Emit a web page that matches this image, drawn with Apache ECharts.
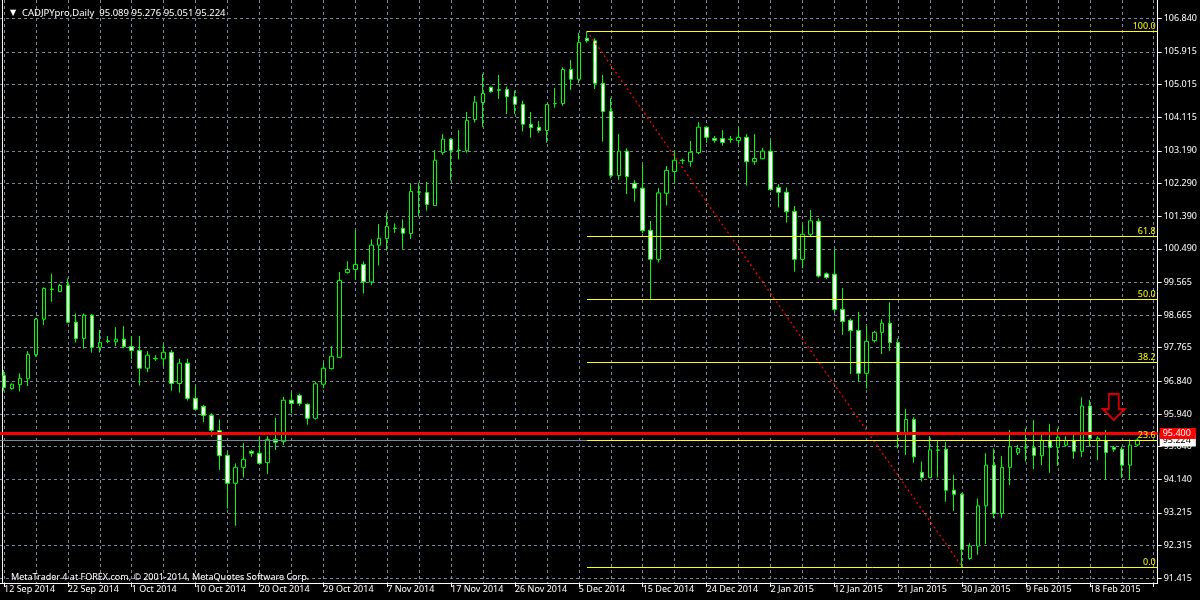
<!DOCTYPE html>
<html><head><meta charset="utf-8">
<script src="https://cdn.jsdelivr.net/npm/echarts@6/dist/echarts.min.js"></script>
<style>html,body{margin:0;padding:0;background:#000}#c{width:1200px;height:600px}</style>
</head><body><div id="c"></div>
<script>
// ---- data ----
const dates = [
'12 Sep 2014','14 Sep 2014','15 Sep 2014','16 Sep 2014','17 Sep 2014','18 Sep 2014','19 Sep 2014',
'21 Sep 2014','22 Sep 2014','23 Sep 2014','24 Sep 2014','25 Sep 2014','26 Sep 2014',
'28 Sep 2014','29 Sep 2014','30 Sep 2014','1 Oct 2014','2 Oct 2014','3 Oct 2014',
'5 Oct 2014','6 Oct 2014','7 Oct 2014','8 Oct 2014','9 Oct 2014','10 Oct 2014',
'12 Oct 2014','13 Oct 2014','14 Oct 2014','15 Oct 2014','16 Oct 2014','17 Oct 2014',
'19 Oct 2014','20 Oct 2014','21 Oct 2014','22 Oct 2014','23 Oct 2014','24 Oct 2014',
'26 Oct 2014','27 Oct 2014','28 Oct 2014','29 Oct 2014','30 Oct 2014','31 Oct 2014',
'2 Nov 2014','3 Nov 2014','4 Nov 2014','5 Nov 2014','6 Nov 2014','7 Nov 2014',
'9 Nov 2014','10 Nov 2014','11 Nov 2014','12 Nov 2014','13 Nov 2014','14 Nov 2014',
'16 Nov 2014','17 Nov 2014','18 Nov 2014','19 Nov 2014','20 Nov 2014','21 Nov 2014',
'23 Nov 2014','24 Nov 2014','25 Nov 2014','26 Nov 2014','27 Nov 2014','28 Nov 2014',
'30 Nov 2014','1 Dec 2014','2 Dec 2014','3 Dec 2014','4 Dec 2014','5 Dec 2014',
'7 Dec 2014','8 Dec 2014','9 Dec 2014','10 Dec 2014','11 Dec 2014','12 Dec 2014',
'14 Dec 2014','15 Dec 2014','16 Dec 2014','17 Dec 2014','18 Dec 2014','19 Dec 2014',
'21 Dec 2014','22 Dec 2014','23 Dec 2014','24 Dec 2014','25 Dec 2014','26 Dec 2014',
'28 Dec 2014','29 Dec 2014','30 Dec 2014','31 Dec 2014','1 Jan 2015','2 Jan 2015',
'4 Jan 2015','5 Jan 2015','6 Jan 2015','7 Jan 2015','8 Jan 2015','9 Jan 2015',
'11 Jan 2015','12 Jan 2015','13 Jan 2015','14 Jan 2015','15 Jan 2015','16 Jan 2015',
'18 Jan 2015','19 Jan 2015','20 Jan 2015','21 Jan 2015','22 Jan 2015','23 Jan 2015',
'25 Jan 2015','26 Jan 2015','27 Jan 2015','28 Jan 2015','29 Jan 2015','30 Jan 2015',
'1 Feb 2015','2 Feb 2015','3 Feb 2015','4 Feb 2015','5 Feb 2015','6 Feb 2015',
'8 Feb 2015','9 Feb 2015','10 Feb 2015','11 Feb 2015','12 Feb 2015','13 Feb 2015',
'15 Feb 2015','16 Feb 2015','17 Feb 2015','18 Feb 2015','19 Feb 2015','20 Feb 2015',
'22 Feb 2015','23 Feb 2015','24 Feb 2015','25 Feb 2015'
];
const opens = [
97.00,96.64,96.75,96.91,97.57,98.55,99.37,99.31,99.48,98.47,98.02,98.66,97.78,97.95,97.93,98.00,97.80,97.69,97.20,97.47,
97.46,97.64,96.78,97.34,96.37,96.15,95.90,95.48,94.80,94.03,94.47,94.91,94.86,94.60,95.24,95.18,96.32,96.45,96.21,95.82,
96.76,97.19,97.50,99.84,99.92,100.06,99.58,100.59,100.77,101.05,101.05,100.91,102.06,102.04,101.68,103.14,103.51,103.21,103.19,104.05,
104.52,104.94,104.87,104.88,104.68,104.47,103.92,103.84,103.75,104.49,104.49,105.43,105.16,106.29,106.22,105.05,104.28,102.51,103.18,102.29,
102.16,101.00,100.20,102.02,102.62,102.92,102.89,103.14,103.84,103.53,103.53,103.51,103.47,103.56,102.89,102.97,103.18,102.18,102.05,101.52,
100.20,100.89,101.25,99.80,99.79,98.82,98.52,98.24,97.06,97.96,98.19,98.44,97.91,95.41,95.79,94.33,94.19,94.95,94.97,93.84,
93.73,91.96,92.30,93.41,94.53,93.20,94.47,94.87,95.01,95.01,94.79,95.21,95.02,95.08,95.21,94.91,96.16,95.21,95.21,95.02,
94.97,94.53,95.089
];
const highs = [
97.15,96.78,97.06,97.67,98.58,99.43,99.80,99.52,99.67,98.71,98.71,98.69,98.25,98.09,98.33,98.36,98.09,98.09,97.67,97.56,
97.86,97.70,97.46,97.46,96.71,96.19,95.96,95.79,94.87,94.58,95.14,94.95,95.33,95.33,95.83,96.41,96.53,96.50,96.23,96.83,
97.35,97.81,99.85,100.15,100.99,100.14,100.75,101.17,101.49,101.19,101.30,102.28,102.31,102.33,103.21,103.65,103.53,103.76,104.26,104.70,
105.31,104.96,105.28,104.96,104.85,104.57,104.26,104.01,104.48,104.92,105.49,105.69,106.44,106.49,106.29,105.28,104.64,103.65,103.26,102.39,
102.83,101.26,102.16,102.77,103.19,102.97,103.46,103.98,103.86,103.60,103.76,103.60,103.84,103.65,103.65,103.27,103.49,102.28,102.18,101.67,
101.17,101.56,101.33,99.84,100.47,99.41,98.57,98.75,98.36,98.23,98.55,99.02,98.02,96.08,95.85,94.63,95.33,95.22,95.17,94.26,
93.76,92.38,93.61,94.86,94.99,94.78,95.50,95.09,95.54,95.77,95.45,95.66,95.54,95.33,95.43,96.40,96.33,95.33,95.50,95.06,
95.04,95.24,95.276
];
const lows = [
96.58,96.61,96.56,96.71,97.52,98.39,99.03,99.30,98.44,97.91,97.74,97.63,97.63,97.89,97.81,97.75,97.45,96.72,97.09,97.40,
97.26,96.58,96.53,96.31,96.05,95.72,95.32,94.40,93.33,92.86,94.19,94.76,94.56,94.29,94.95,95.09,95.96,96.16,95.65,95.79,
96.65,97.17,97.49,99.81,99.63,99.26,99.49,100.03,100.44,100.93,100.49,100.76,101.38,101.54,101.67,103.08,102.37,102.95,103.14,103.97,
103.85,104.79,104.62,104.20,104.20,103.72,103.55,103.69,103.41,104.38,104.43,104.87,105.05,106.17,104.89,103.44,102.43,102.39,102.00,101.79,
100.92,99.08,100.11,101.68,102.29,102.82,102.75,103.10,103.41,103.41,103.33,103.41,103.38,102.23,102.80,102.96,102.09,101.63,101.21,99.86,
99.95,100.82,99.70,99.65,98.74,98.12,97.04,96.83,96.64,97.91,97.59,97.68,94.99,94.81,94.60,94.08,94.17,94.19,93.52,93.27,
91.726,91.92,92.06,92.36,93.07,93.07,93.98,94.81,94.63,94.42,94.53,94.32,94.51,95.04,94.70,94.76,95.04,94.67,94.14,94.90,
94.17,94.12,95.051
];
const closes = [
96.67,96.76,96.92,97.58,98.55,99.40,99.38,99.48,98.47,98.02,98.66,97.78,97.91,97.94,98.00,97.80,97.69,97.20,97.56,97.46,
97.64,96.78,97.34,96.37,96.07,95.90,95.49,94.79,94.03,94.47,94.69,94.86,94.58,95.24,95.16,96.32,96.23,96.23,95.82,96.77,
97.20,97.53,99.62,99.92,100.06,99.58,100.59,100.78,101.11,101.06,100.92,102.07,102.05,101.71,102.93,103.51,103.20,103.20,104.03,104.53,
104.77,104.82,104.86,104.68,104.47,103.92,103.83,103.75,104.47,104.49,105.43,105.16,106.18,106.22,105.05,104.27,102.51,103.18,102.48,102.16,
100.99,100.20,102.03,102.65,102.93,102.93,103.15,103.84,103.56,103.48,103.42,103.50,103.56,102.89,102.98,103.18,102.12,102.05,101.51,100.20,
100.89,101.26,99.74,99.70,98.82,98.49,98.24,97.06,97.94,98.19,98.44,97.91,95.41,95.79,94.76,94.19,94.95,94.94,93.84,93.73,
92.21,92.30,93.41,94.53,93.20,94.47,95.04,94.99,95.00,94.80,95.21,95.02,95.30,95.21,94.91,96.16,95.27,95.27,94.88,94.97,
94.53,95.08,95.224
];
const priceTicks = [106.840,105.915,105.015,104.115,103.190,102.290,101.390,100.490,99.565,98.665,97.765,96.840,95.940,95.040,94.140,93.215,92.315,91.415];
const fibRatios = ['100.0','61.8','50.0','38.2','23.6','0.0'];
const fibLevels = [106.490,100.850,99.108,97.366,95.210,91.726];
const fibStartBar = 73;   // 7 Dec 2014 high
const fibEndBar = 120;    // 30 Jan 2015 low
const resistanceLevel = 95.400;
const bidLevel = 95.224;
const arrowPoint = [139, 96.13];
const symbolName = 'CADJPYpro,Daily';
const copyrightText = 'MetaTrader 4 at FOREX.com, \u00a9 2001-2014, MetaQuotes Software Corp.';

// ---- chart ----
const n = dates.length;
const last = n - 1;
const xRight = n + 1.5;
const candles = dates.map((d, i) => [opens[i], closes[i], lows[i], highs[i]]);
const vGrid = [];
for (let i = 0; i <= n + 1; i += 4) vGrid.push(i);
const f3 = v => v.toFixed(3);
const FONT = '"Noto Sans", "DejaVu Sans", sans-serif';
const GRID_DASH = {color: '#778899', width: 1, type: [3, 3]};
const YELLOW = '#ffff00';

// fibonacci levels: [startBar, endBar(right edge), price, ratio label index]
const fibData = fibLevels.map((lvl, k) => [fibStartBar, xRight, lvl, k]);

function renderFib(params, api) {
  const p1 = api.coord([api.value(0), api.value(2)]);
  const p2 = api.coord([api.value(1), api.value(2)]);
  const y = Math.round(p1[1]) + 0.5;            // crisp 1px line
  const k = api.value(3);
  return {
    type: 'group',
    children: [
      {type: 'line', shape: {x1: Math.round(p1[0]), y1: y, x2: p2[0], y2: y},
       style: {stroke: YELLOW, lineWidth: 1}},
      {type: 'text', x: p2[0] - 2, y: y - 1,
       style: {text: fibRatios[k], fill: YELLOW, align: 'right', verticalAlign: 'bottom',
               font: '9px "Noto Sans", sans-serif'}}
    ]
  };
}

const chart = echarts.init(document.getElementById('c'));
chart.setOption({
  backgroundColor: '#000',
  animation: false,
  title: [
    {text: '\u25BC', left: 5, top: 4, textStyle: {color: '#fff', fontSize: 8, fontWeight: 'normal', fontFamily: '"DejaVu Sans", sans-serif'}},
    {text: symbolName + '  ' + [opens[last], highs[last], lows[last], closes[last]].map(f3).join(' '),
     left: 17, top: 3, textStyle: {color: '#fff', fontSize: 9.5, fontWeight: 'normal', fontFamily: FONT}},
    {text: copyrightText, left: 6, top: 568, textStyle: {color: '#fff', fontSize: 9, fontWeight: 'normal', fontFamily: FONT}}
  ],
  grid: {left: -0.67, top: 0, width: 1160, height: 583},
  xAxis: [
    {type: 'category', data: dates, boundaryGap: true, max: n + 1,
     axisLine: {show: true, onZero: false, lineStyle: {color: '#fff', width: 1}},
     axisTick: {show: true, alignWithLabel: true, length: 4, interval: i => i % 8 === 0, lineStyle: {color: '#fff'}},
     axisLabel: {show: true, interval: i => i % 8 === 0 && i < n, align: 'left', margin: 2, color: '#fff', fontSize: 9, fontFamily: FONT},
     splitLine: {show: false}},
    {type: 'value', min: -0.5, max: xRight, position: 'top',
     axisLine: {show: false, onZero: false}, axisTick: {show: false, customValues: vGrid}, axisLabel: {show: false},
     splitLine: {show: true, lineStyle: GRID_DASH}}
  ],
  yAxis: [
    {type: 'value', position: 'right', min: 91.284, max: 107.344,
     axisLine: {show: true, onZero: false, lineStyle: {color: '#fff', width: 1}},
     axisTick: {show: true, length: 4, customValues: priceTicks, lineStyle: {color: '#fff'}},
     axisLabel: {customValues: priceTicks, formatter: v => f3(v), color: '#fff', fontSize: 9, fontFamily: FONT, margin: 6},
     splitLine: {show: true, lineStyle: GRID_DASH}},
    {type: 'value', position: 'left', offset: -2.67, min: 0, max: 1,
     axisLine: {show: true, onZero: false, lineStyle: {color: '#fff', width: 1}},
     axisTick: {show: false}, axisLabel: {show: false}, splitLine: {show: false}}
  ],
  series: [
    {type: 'candlestick', name: symbolName, xAxisIndex: 0, yAxisIndex: 0, data: candles, barWidth: 4, z: 3,
     itemStyle: {color: '#000', color0: '#fff', borderColor: '#00ff00', borderColor0: '#00ff00', borderColorDoji: '#00ff00', borderWidth: 1}},
    {type: 'line', name: 'trend', xAxisIndex: 1, yAxisIndex: 0, z: 4, silent: true, symbol: 'none',
     data: [[fibStartBar, fibLevels[0]], [fibEndBar, fibLevels[fibLevels.length - 1]]],
     lineStyle: {color: '#ff0000', width: 1.3, type: [2, 3]}},
    {type: 'line', name: 'bid', xAxisIndex: 0, yAxisIndex: 0, data: [], z: 5, silent: true,
     markLine: {symbol: ['none', 'none'], silent: true, animation: false,
       lineStyle: {color: '#778899', width: 1, type: 'solid'},
       label: {show: true, position: 'end', distance: 2, formatter: f3(bidLevel), backgroundColor: '#fff', color: '#000',
               fontSize: 9, fontFamily: FONT, lineHeight: 11, padding: [1, 5, 1, 3]},
       emphasis: {disabled: true},
       data: [{yAxis: bidLevel}]}},
    {type: 'line', name: 'resistance', xAxisIndex: 0, yAxisIndex: 0, data: [], z: 6, silent: true,
     markLine: {symbol: ['none', 'none'], silent: true, animation: false,
       lineStyle: {color: '#ff0000', width: 3, type: 'solid'},
       label: {show: true, position: 'end', distance: 2, formatter: f3(resistanceLevel), backgroundColor: '#ff0000', color: '#fff',
               fontSize: 9, fontFamily: FONT, lineHeight: 11, padding: [0, 5, 0, 3]},
       emphasis: {disabled: true},
       data: [{yAxis: resistanceLevel}]}},
    {type: 'custom', name: 'fibonacci', xAxisIndex: 1, yAxisIndex: 0, z: 7, silent: true, clip: false,
     renderItem: renderFib, data: fibData, encode: {x: [0, 1], y: 2}},
    {type: 'scatter', name: 'arrow', xAxisIndex: 1, yAxisIndex: 0, z: 8, silent: true,
     symbol: 'path://M6,0 L16,0 L16,15 L22,15 L11,26 L0,15 L6,15 Z', symbolSize: [22, 26],
     itemStyle: {color: '#000', borderColor: '#ff0000', borderWidth: 2},
     data: [arrowPoint]}
  ]
});
</script></body></html>
